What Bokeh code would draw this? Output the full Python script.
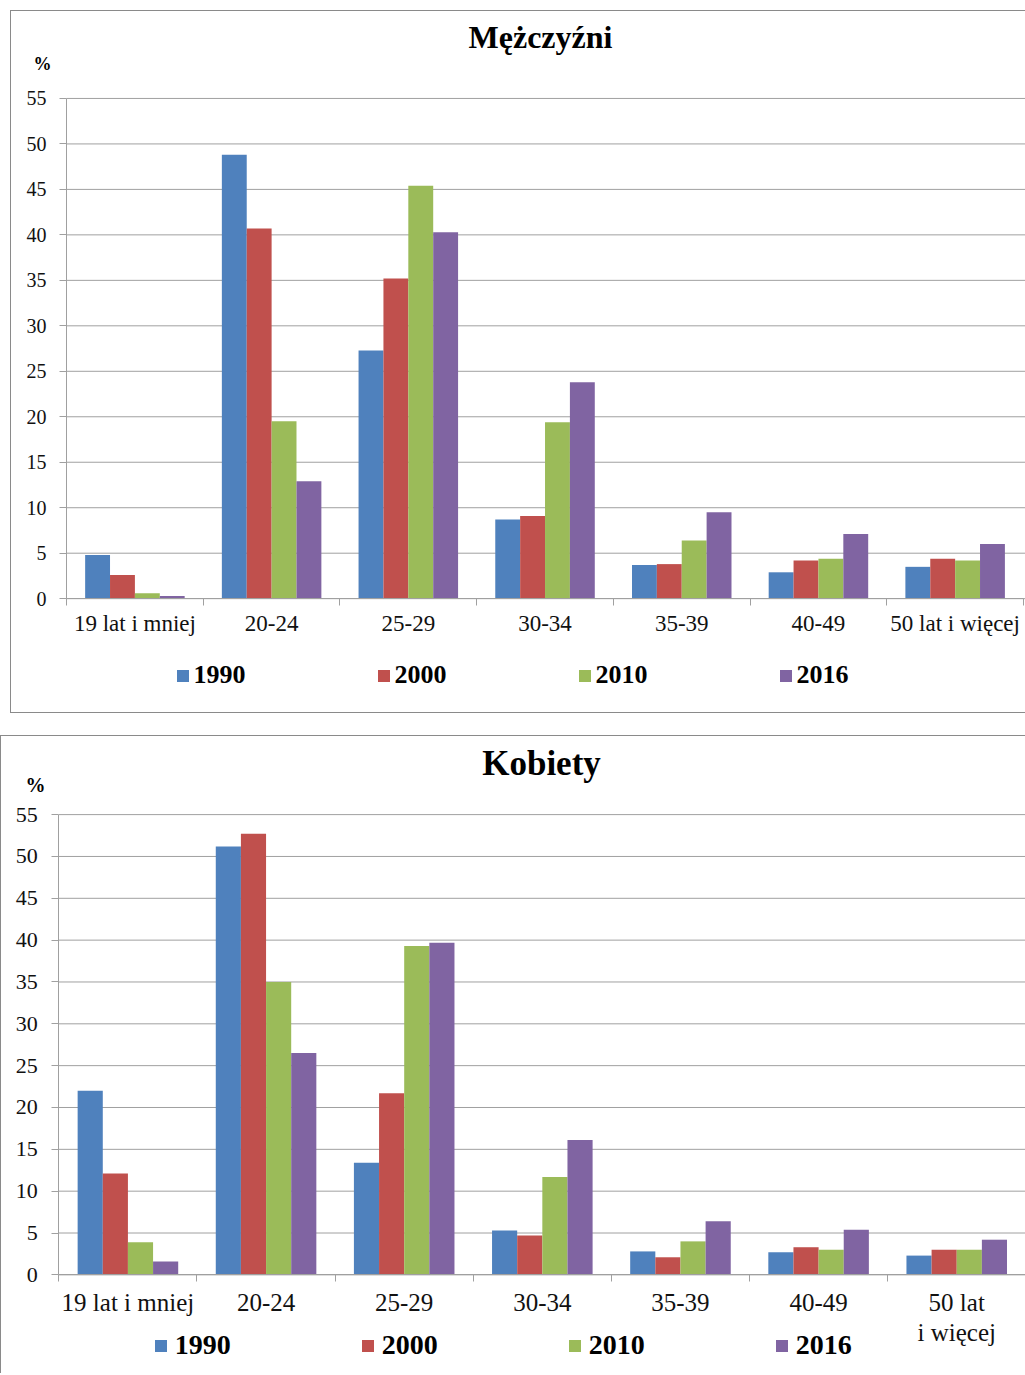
from bokeh.plotting import figure
from bokeh.models import Range1d, FixedTicker, Legend, LegendItem, Label
from bokeh.layouts import column
from bokeh.embed import file_html
from bokeh.resources import INLINE

# ---------------- data ----------------
years = ["1990", "2000", "2010", "2016"]
colors = ["#4F81BD", "#C0504D", "#9BBB59", "#8064A2"]

categories_m = ["19 lat i mniej", "20-24", "25-29", "30-34", "35-39", "40-49", "50 lat i więcej"]
categories_k = ["19 lat i mniej", "20-24", "25-29", "30-34", "35-39", "40-49", "50 lat\ni więcej"]

men_1990 = [4.8, 48.8, 27.3, 8.7, 3.7, 2.9, 3.5]
men_2000 = [2.6, 40.7, 35.2, 9.1, 3.8, 4.2, 4.4]
men_2010 = [0.6, 19.5, 45.4, 19.4, 6.4, 4.4, 4.2]
men_2016 = [0.3, 12.9, 40.3, 23.8, 9.5, 7.1, 6.0]

women_1990 = [22.0, 51.2, 13.4, 5.3, 2.8, 2.7, 2.3]
women_2000 = [12.1, 52.7, 21.7, 4.7, 2.1, 3.3, 3.0]
women_2010 = [3.9, 35.0, 39.3, 11.7, 4.0, 3.0, 3.0]
women_2016 = [1.6, 26.5, 39.7, 16.1, 6.4, 5.4, 4.2]

y_ticks = [0, 5, 10, 15, 20, 25, 30, 35, 40, 45, 50, 55]
Y_MAX = 55

FONT = "Liberation Serif, serif"
GRID = "#a0a0a0"
BORDER = "1px solid #8a8a8a"


def make_panel(title, categories, series, *, box, canvas, axis_px, title_pt, pct_pt,
               tick_fs, cat_fs, title_fs, pct_fs, y_standoff, x_standoff,
               leg_fs, leg_pt, leg_spacing, leg_standoff, margin, border):
    """box = (width, height) of the element; canvas = (left, top, w, h) in page px;
    axis_px = (x of y-axis, y of value 0, y of value 55, x of right end of last category)."""
    n = len(categories)
    cl, ct, cw, ch = canvas
    ax_x, y0_px, y55_px, xr_px = axis_px
    kx = (xr_px - ax_x) / n           # px per category
    ky = (y0_px - y55_px) / Y_MAX     # px per unit
    x_range = Range1d(-(ax_x - cl) / kx, (cl + cw - ax_x) / kx)
    y_range = Range1d(-(ct + ch - y0_px) / ky, Y_MAX + (y55_px - ct) / ky)

    p = figure(width=box[0], height=box[1], output_backend="svg", toolbar_location=None,
               x_range=x_range, y_range=y_range,
               min_border_top=0, min_border_bottom=0, min_border_left=0, min_border_right=0,
               margin=margin)
    p.outline_line_color = None
    p.background_fill_color = "white"
    p.border_fill_color = "white"
    p.styles = border
    p.xgrid.grid_line_color = None
    p.ygrid.grid_line_color = None

    # horizontal gridlines, from the axis to the right edge
    p.segment(x0=[0] * len(y_ticks), x1=[x_range.end] * len(y_ticks), y0=y_ticks, y1=y_ticks,
              line_color=GRID, line_width=1)

    bw = 0.182
    offsets = [-1.5, -0.5, 0.5, 1.5]
    renderers = []
    for vals, col, off in zip(series, colors, offsets):
        xs = [i + 0.5 + off * bw for i in range(n)]
        r = p.vbar(x=xs, top=vals, width=bw, fill_color=col, line_color=None)
        renderers.append(r)

    ya = p.yaxis[0]
    ya.fixed_location = 0
    ya.bounds = (0, Y_MAX)
    ya.ticker = FixedTicker(ticks=y_ticks)
    ya.axis_line_color = GRID
    ya.major_tick_line_color = GRID
    ya.major_tick_out = 7
    ya.major_tick_in = 0
    ya.minor_tick_line_color = None
    ya.major_label_standoff = y_standoff
    ya.major_label_text_font = FONT
    ya.major_label_text_font_size = tick_fs
    ya.major_label_text_color = "#111111"

    xa = p.xaxis[0]
    xa.fixed_location = 0
    xa.bounds = (0, n)
    centers = [i + 0.5 for i in range(n)]
    xa.ticker = FixedTicker(ticks=centers, minor_ticks=list(range(n + 1)))
    xa.major_label_overrides = {c: lab for c, lab in zip(centers, categories)}
    xa.axis_line_color = GRID
    xa.major_tick_line_color = None
    xa.major_tick_out = 0
    xa.major_tick_in = 0
    xa.minor_tick_line_color = GRID
    xa.minor_tick_out = 7
    xa.minor_tick_in = 0
    xa.major_label_standoff = x_standoff
    xa.major_label_text_font = FONT
    xa.major_label_text_font_size = cat_fs
    xa.major_label_text_line_height = 1.1
    xa.major_label_text_color = "#111111"

    def sx(px):
        return px - cl

    def sy(py):
        return ct + ch - py

    p.add_layout(Label(x=sx(title_pt[0]), y=sy(title_pt[1]), x_units="screen", y_units="screen",
                       text=title, text_font=FONT, text_font_style="bold", text_font_size=title_fs,
                       text_align="center", text_baseline="middle", text_color="#000000"))
    p.add_layout(Label(x=sx(pct_pt[0]), y=sy(pct_pt[1]), x_units="screen", y_units="screen",
                       text="%", text_font=FONT, text_font_style="bold", text_font_size=pct_fs,
                       text_align="center", text_baseline="middle", text_color="#000000"))

    legend = Legend(items=[LegendItem(label=y, renderers=[r]) for y, r in zip(years, renderers)],
                    orientation="horizontal", location=(sx(leg_pt[0]), sy(leg_pt[1])),
                    glyph_width=15, glyph_height=15, label_standoff=leg_standoff,
                    spacing=leg_spacing, padding=0, margin=0,
                    border_line_color=None, background_fill_alpha=0,
                    label_text_font=FONT, label_text_font_style="bold",
                    label_text_font_size=leg_fs, label_text_color="#000000")
    p.add_layout(legend, "center")
    return p


men = make_panel("Mężczyźni", categories_m, [men_1990, men_2000, men_2010, men_2016],
                 box=(1015, 703), canvas=(11, 11, 1014, 701), margin=(10, 0, 0, 10),
                 axis_px=(66, 596.5, 97.7, 1022),
                 title_pt=(540, 34), pct_pt=(42, 61),
                 tick_fs="20px", cat_fs="23px", title_fs="32px", pct_fs="18px",
                 y_standoff=13, x_standoff=5,
                 leg_fs="26px", leg_pt=(174.5, 688), leg_spacing=130, leg_standoff=4,
                 border={"border-top": BORDER, "border-left": BORDER, "border-bottom": BORDER})

women = make_panel("Kobiety", categories_k, [women_1990, women_2000, women_2010, women_2016],
                   box=(1025, 638), canvas=(1, 736, 1024, 637), margin=(22, 0, 0, 0),
                   axis_px=(58.3, 1273.5, 814, 1024.3),
                   title_pt=(541, 762), pct_pt=(35, 783),
                   tick_fs="22px", cat_fs="25px", title_fs="35px", pct_fs="20px",
                   y_standoff=14, x_standoff=7,
                   leg_fs="28px", leg_pt=(152.8, 1360), leg_spacing=129, leg_standoff=7,
                   border={"border-top": BORDER, "border-left": BORDER})

layout = column(men, women, spacing=0)
open("out.html", "w").write(file_html(layout, INLINE))
